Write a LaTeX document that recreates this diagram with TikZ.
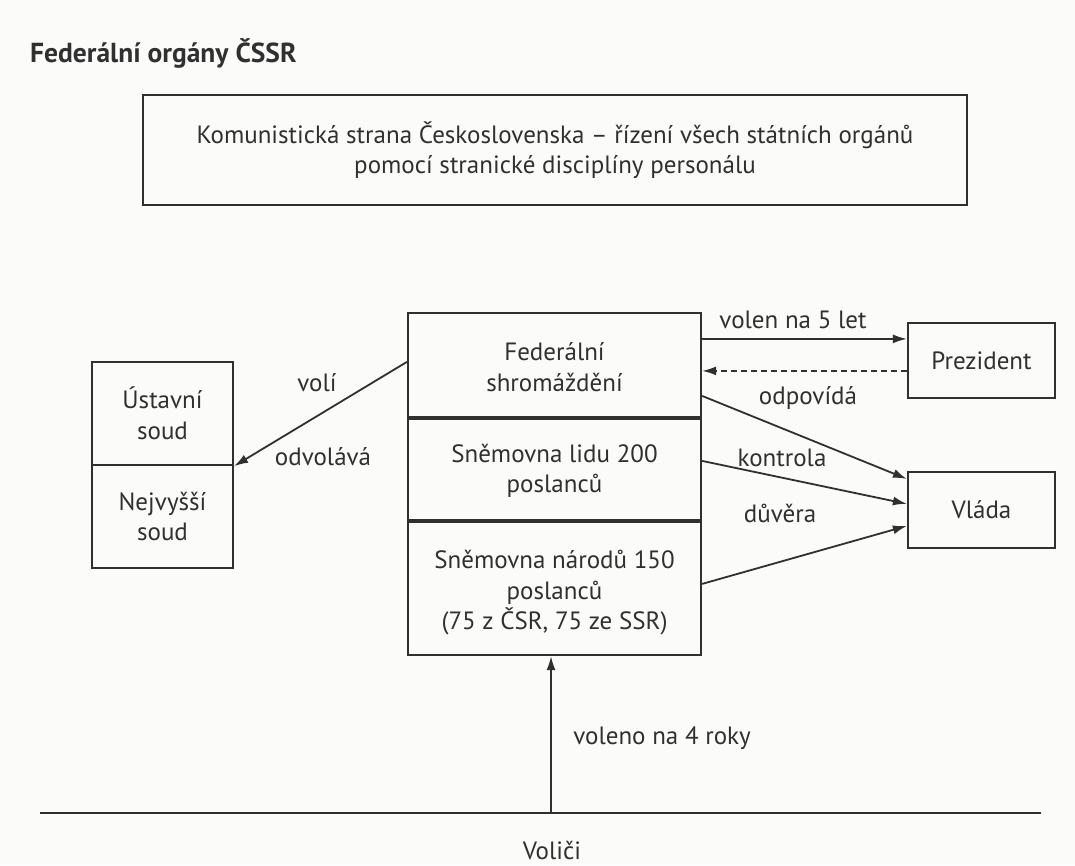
\documentclass[tikz,border=0pt]{standalone}
\usepackage{fontspec}
\setmainfont{PT Sans}
\usetikzlibrary{arrows.meta}
\definecolor{ink}{HTML}{303030}
\definecolor{paper}{HTML}{FBFBFA}
\tikzset{
  boxx/.style={draw=ink, line width=2.2pt, inner sep=0pt, align=center, text=ink},
  lbl/.style={text=ink, inner sep=0pt, anchor=center},
  conn/.style={draw=ink, line width=1.8pt, -{Latex[length=14pt,width=9pt]}},
  bodyfont/.style={font=\fontsize{25}{30.5}\selectfont},
}
\begin{document}
\begin{tikzpicture}[x=1pt,y=-1pt,bodyfont]
\fill[paper] (0,0) rectangle (1075,865);
\useasboundingbox (0,0) rectangle (1075,865);

\node[lbl, anchor=base west, font=\bfseries\fontsize{27.5}{32}\selectfont] (title) at (30,62) {Federální orgány ČSSR};

\node[boxx, minimum width=824pt, minimum height=110pt] (ksc) at (555,150)
  {Komunistická strana Československa – řízení všech státních orgánů\\pomocí stranické disciplíny personálu};

\node[boxx, minimum width=293pt, minimum height=104pt] (fs) at (554.5,365) {};
\node[lbl, align=center] (fstext) at (554.5,367) {Federální\\shromáždění};
\node[boxx, minimum width=293pt, minimum height=103pt] (sl) at (554.5,468.5) {};
\node[lbl, align=center] (sltext) at (554.5,471) {Sněmovna lidu 200\\poslanců};
\node[boxx, minimum width=293pt, minimum height=135pt] (sn) at (554.5,587.5) {};
\node[lbl, align=center] (sntext) at (554.5,593) {Sněmovna národů 150\\poslanců\\(75 z ČSR, 75 ze SSR)};
\draw[ink, line width=3.5pt] (fs.south west) -- (fs.south east);
\draw[ink, line width=3.5pt] (sl.south west) -- (sl.south east);

\node[boxx, minimum width=141pt, minimum height=103pt] (us) at (162.5,413.5) {Ústavní\\soud};
\node[boxx, minimum width=141pt, minimum height=103pt] (ns) at (162.5,516.5) {Nejvyšší\\soud};

\node[boxx, minimum width=147pt, minimum height=75pt] (prez) at (981.5,360.5) {Prezident};
\node[boxx, minimum width=147pt, minimum height=76pt] (vl) at (981.5,510) {Vláda};

% connectors
\draw[conn] ([yshift=-27pt]fs.north east) -- ([yshift=-17pt]prez.north west);
\draw[conn, dashed, dash pattern=on 6pt off 4pt] ([yshift=-49pt]prez.north west) -- ([yshift=-59pt]fs.north east);
\draw[conn] ([yshift=-84pt]fs.north east) -- ([yshift=-8pt]vl.north west);
\draw[conn] ([yshift=-45pt]sl.north east) -- ([yshift=-33pt]vl.north west);
\draw[conn] ([yshift=-65pt]sn.north east) -- ([yshift=-55pt]vl.north west);
\draw[conn] ([yshift=-50pt]fs.north west) -- (us.south east);

\coordinate (vleft) at (40,813);
\coordinate (vright) at (1041,813);
\coordinate (vmid) at (551,813);
\draw[ink, line width=2.4pt] (vleft) -- (vright);
\draw[conn] (vmid) -- (vmid |- sn.south);

% labels
\node[lbl] (l1) at (793,320) {volen na 5 let};
\node[lbl] (l2) at (808,398) {odpovídá};
\node[lbl] (l3) at (782,458) {kontrola};
\node[lbl] (l4) at (780,513) {důvěra};
\node[lbl] (l5) at (317,383) {volí};
\node[lbl] (l6) at (323,457) {odvolává};
\node[lbl] (l7) at (662,738) {voleno na 4 roky};
\node[lbl] (l8) at (552,850) {Voliči};
\end{tikzpicture}
\end{document}
